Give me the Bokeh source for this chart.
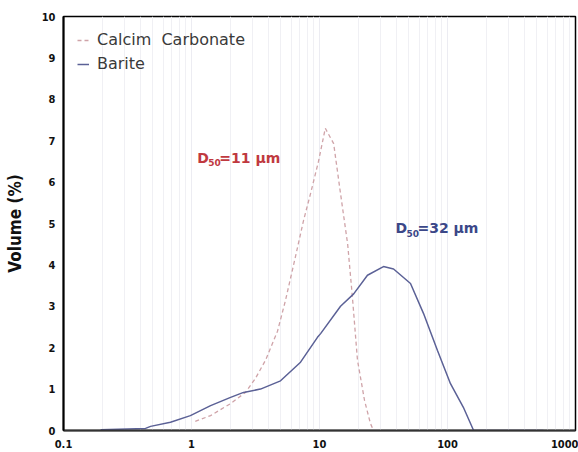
from bokeh.plotting import figure
from bokeh.models import FixedTicker, PrintfTickFormatter, Legend, LegendItem, ColumnDataSource
from bokeh.core.properties import value
from bokeh.embed import file_html
from bokeh.resources import INLINE

# ---- data (particle size in µm, volume in %) ----
carbonate_size = [1.07, 1.41, 2.02, 2.64, 3.16, 3.79, 4.70, 5.42, 6.49, 7.50, 8.51, 9.82,
                  11.1, 12.9, 14.6, 16.6, 18.1, 19.8, 22.5, 25.0, 26.4]
carbonate_vol = [0.22, 0.36, 0.65, 0.92, 1.26, 1.70, 2.40, 3.14, 4.20, 5.07, 5.72, 6.50,
                 7.30, 6.93, 5.72, 4.50, 3.20, 1.70, 0.72, 0.17, 0.0]

barite_size = [0.195, 0.4375, 0.479, 0.685, 0.98, 1.41, 2.02, 2.55, 3.46, 4.96, 7.11, 9.64,
               10.2, 14.6, 18.5, 23.7, 31.6, 37.9, 51.4, 64.9, 83.5, 105.5, 133.0, 160.0, 562.0]
barite_vol = [0.02, 0.05, 0.10, 0.20, 0.36, 0.60, 0.80, 0.92, 1.00, 1.20, 1.65, 2.25,
              2.34, 3.00, 3.30, 3.75, 3.96, 3.90, 3.55, 2.83, 1.93, 1.13, 0.56, 0.0, 0.0]

series_names = ["Calcim  Carbonate", "Barite"]
x_ticks = [0.1, 1, 10, 100, 1000]
y_ticks = [0, 1, 2, 3, 4, 5, 6, 7, 8, 9, 10]

d50_labels = [("D", "50", "=11 µm"), ("D", "50", "=32 µm")]
d50_anchor_x = [1.11, 39.2]
d50_anchor_y = [6.59, 4.88]

NARROW = "'DejaVu Sans Condensed', 'Liberation Sans', sans-serif"

# ---- figure ----
p = figure(width=578, height=452, x_axis_type="log", x_range=(0.1, 1000), y_range=(0, 10),
           output_backend="svg", toolbar_location=None,
           min_border_left=63, min_border_right=3, min_border_top=16, min_border_bottom=22)
p.background_fill_color = "white"
p.border_fill_color = "white"
p.outline_line_color = "black"
p.outline_line_width = 1.5

minor = [m * 10.0 ** e for e in range(-1, 3) for m in range(2, 10)]
p.xaxis.ticker = FixedTicker(ticks=x_ticks, minor_ticks=minor)
p.xaxis.formatter = PrintfTickFormatter(format="%g")
p.yaxis.ticker = FixedTicker(ticks=y_ticks)

for ax in (p.xaxis[0], p.yaxis[0]):
    ax.major_tick_line_color = None
    ax.minor_tick_line_color = None
    ax.major_tick_out = 0
    ax.minor_tick_out = 0
    ax.major_tick_in = 0
    ax.minor_tick_in = 0
    ax.major_label_text_font = NARROW
    ax.major_label_text_font_style = "bold"
    ax.major_label_text_font_size = "11px"
    ax.major_label_text_color = "#111111"
    ax.axis_line_width = 2

p.xaxis.axis_line_color = "#333333"
p.yaxis.axis_line_color = "black"
p.xaxis.major_label_standoff = 9
p.yaxis.major_label_standoff = 8
p.yaxis.axis_label = "Volume (%)"
p.yaxis.axis_label_text_font = NARROW
p.yaxis.axis_label_text_font_style = "bold"
p.yaxis.axis_label_text_font_size = "17px"
p.yaxis.axis_label_text_color = "#111111"
p.yaxis.axis_label_standoff = 14

p.xgrid.grid_line_color = "#ececf2"
p.xgrid.grid_line_width = 1
p.xgrid.minor_grid_line_color = "#f0f0f4"
p.xgrid.minor_grid_line_width = 1
p.ygrid.grid_line_color = None

r_carb = p.line(carbonate_size, carbonate_vol, line_color="#cfa3a8", line_width=1.3,
                line_dash="4 3")
r_bar = p.line(barite_size, barite_vol, line_color="#5b6196", line_width=1.5)

legend = Legend(items=[LegendItem(label=series_names[0], renderers=[r_carb]),
                       LegendItem(label=series_names[1], renderers=[r_bar])],
                location="top_left")
legend.border_line_color = None
legend.background_fill_alpha = 0
legend.margin = 14
legend.padding = 0
legend.glyph_width = 12
legend.glyph_height = 12
legend.label_height = 12
legend.label_standoff = 8
legend.spacing = 5
legend.label_text_font = "DejaVu Sans"
legend.label_text_font_size = "16px"
legend.label_text_color = "#3a3a3a"
p.add_layout(legend)

# D50 annotations
colors = ["#c0393f", "#3b4788"]
for (d, sub, rest), ax_, ay_, c in zip(d50_labels, d50_anchor_x, d50_anchor_y, colors):
    src = ColumnDataSource(dict(x=[ax_], y=[ay_]))
    p.text("x", "y", text=value(d), source=src, text_color=c, text_font=value("DejaVu Sans"),
           text_font_style="bold", text_font_size="14px", text_baseline="middle")
    p.text("x", "y", text=value(sub), source=src, text_color=c, text_font=value("DejaVu Sans"),
           text_font_style="bold", text_font_size="9px", text_baseline="middle",
           x_offset=11, y_offset=5)
    p.text("x", "y", text=value(rest), source=src, text_color=c, text_font=value("DejaVu Sans"),
           text_font_style="bold", text_font_size="14px", text_baseline="middle",
           x_offset=22)

open("out.html", "w").write(file_html(p, INLINE))
